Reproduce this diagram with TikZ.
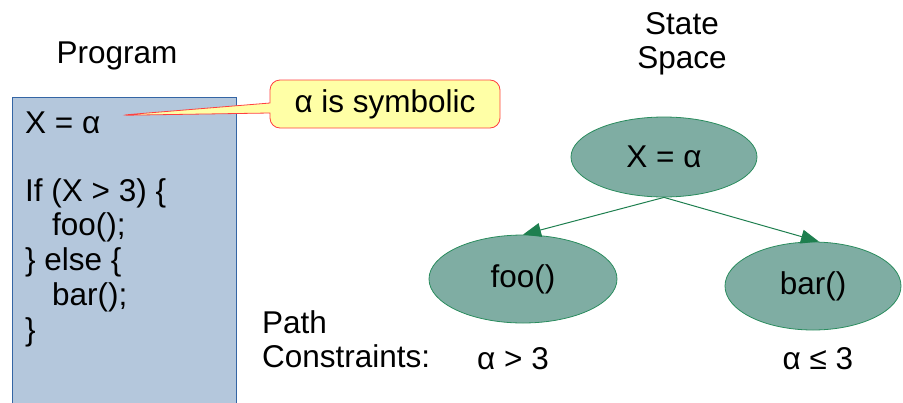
\documentclass[tikz,border=0pt]{standalone}
\usepackage{fontspec}
\setmainfont{Liberation Sans}
\usepackage{tikz}
\usetikzlibrary{arrows.meta,calc,positioning,shapes.geometric,shapes.callouts}
\definecolor{azulcod}{HTML}{B4C7DC}
\definecolor{azulborda}{HTML}{3465A4}
\definecolor{amarelo}{HTML}{FFFFA6}
\definecolor{vermelho}{HTML}{FF4040}
\definecolor{verdeest}{HTML}{7FADA3}
\definecolor{verdeborda}{HTML}{2A8C5E}
\definecolor{verdeseta}{HTML}{1E7F4F}

\begin{document}
\begin{tikzpicture}[
  x=1pt,y=-1pt,
  every node/.style={font=\fontsize{31.5}{34}\selectfont,inner sep=0pt},
  estado/.style={ellipse,draw=verdeborda,fill=verdeest,line width=0.8pt},
  arr/.style={-{Triangle[length=18pt,width=14pt]},line width=1pt,verdeseta}
]
  \useasboundingbox (0,0) rectangle (903,402);

  % programa
  \node[anchor=base] (prog) at (117,63) {Program};
  \draw[azulborda,fill=azulcod,line width=0.8pt] (12,410) -- (12,97) -- (236,97) -- (236,410);
  \node[anchor=base west] (xline) at (25,133) {X = α};
  \node[anchor=north west,align=left,font=\fontsize{31.5}{34.8}\selectfont] (code) at (25,178)
    {If (X > 3) \{\\\hspace{27pt}foo();\\\} else \{\\\hspace{27pt}bar();\\\}};

  \coordinate (tip) at ($(xline.east)+(19,-7)$);
  \node[rectangle callout,rounded corners=10pt,draw=vermelho,fill=amarelo,line width=0.8pt,
        minimum width=230pt,minimum height=48pt,callout pointer width=10pt,
        callout absolute pointer={(tip)}] (nota) at (385,104) {α is symbolic};

  % espaco de estados
  \node[anchor=north,align=center] (titulo) at (682,12) {State\\Space};
  \node[estado,minimum width=186pt,minimum height=80pt] (raiz) at (664,157) {X = α};
  \node[estado,minimum width=188pt,minimum height=88pt] (foo) at (523,279) {foo()};
  \node[estado,minimum width=176pt,minimum height=88pt] (bar) at (813,286) {bar()};
  \draw[arr] (raiz.south) -- (foo.north);
  \draw[arr] (raiz.south) -- ($(bar.north)+(6,0)$);

  \node[anchor=north west,align=left] (restr) at (262,310) {Path\\Constraints:};
  \node[anchor=base] (c1) at (513,369) {α > 3};
  \node[anchor=base] (c2) at (818,369) {α ≤ 3};
\end{tikzpicture}
\end{document}
